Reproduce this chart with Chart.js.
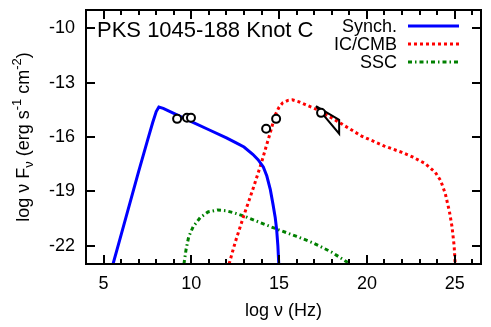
<!DOCTYPE html>
<html>
<head>
<meta charset="utf-8">
<script src="https://cdn.jsdelivr.net/npm/chart.js@4"></script>
<style>
  html, body { margin: 0; padding: 0; background: #fff; }
  canvas { display: block; }
</style>
</head>
<body>
<canvas id="sed" width="491" height="327"></canvas>
<script>
// --- axis ticks ---
const xTicks = [5, 10, 15, 20, 25];
const yTicks = [-10, -13, -16, -19, -22];

// --- Synchrotron model (log nu, log nuFnu) ---
const synchX = [5.54, 6.0, 6.5, 7.0, 7.5, 7.8, 8.0, 8.15, 8.4, 9.0, 10.0, 11.0, 12.0, 12.5, 13.0, 13.5, 13.8, 14.1, 14.3, 14.5, 14.65, 14.78, 14.86, 14.93, 14.98];
const synchY = [-23.0, -21.4, -19.65, -17.9, -16.2, -15.2, -14.6, -14.35, -14.42, -14.7, -15.15, -15.6, -16.05, -16.3, -16.55, -16.95, -17.25, -17.65, -18.15, -18.9, -19.7, -20.45, -21.1, -22.0, -23.0];

// --- IC/CMB model ---
const icX = [12.15, 12.5, 13.0, 13.5, 14.0, 14.3, 14.5, 14.77, 15.0, 15.2, 15.5, 15.75, 16.1, 16.5, 17.2, 18.0, 18.6, 19.7, 21.0, 22.0, 22.6, 23.3, 23.9, 24.2, 24.46, 24.7, 24.85, 24.97, 25.03];
const icY = [-23.0, -21.8, -20.3, -18.9, -17.4, -16.4, -15.75, -14.8, -14.35, -14.12, -13.98, -13.95, -14.05, -14.22, -14.5, -14.95, -15.3, -15.95, -16.5, -16.85, -17.1, -17.45, -17.95, -18.4, -19.1, -20.1, -20.95, -22.0, -23.0];

// --- SSC model ---
const sscX = [9.58, 9.7, 9.85, 10.1, 10.5, 10.95, 11.5, 12.0, 12.4, 13.06, 14.0, 14.94, 16.0, 16.9, 18.0, 19.04];
const sscY = [-23.0, -22.2, -21.5, -20.95, -20.45, -20.13, -20.02, -20.07, -20.17, -20.38, -20.75, -21.1, -21.48, -21.82, -22.35, -23.0];

// --- observed fluxes ---
const obsX = [9.19, 9.75, 9.98, 14.26, 14.83, 17.39];
const obsY = [-15.0, -14.94, -14.94, -15.55, -15.0, -14.67];

// --- X-ray spectrum (bow tie) ---
const xrayX = [17.1, 18.42, 18.42, 17.1];
const xrayY = [-14.3, -15.05, -15.82, -14.3];

const FONT = "'Liberation Sans', Arial, Helvetica, sans-serif";
Chart.defaults.font.family = FONT;
Chart.defaults.color = '#000';

const pts = (xs, ys) => xs.map((x, i) => ({ x: x, y: ys[i] }));

// box around the plot with gnuplot-style inward ticks
const framePlugin = {
    id: 'frame',
    afterDatasetsDraw(chart) {
        const { ctx, chartArea: a, scales: { x, y } } = chart;
        ctx.save();
        ctx.strokeStyle = '#000';
        ctx.lineWidth = 2;
        ctx.beginPath();
        for (let v = Math.ceil(x.min); v <= Math.floor(x.max); v++) {
            const px = Math.round(x.getPixelForValue(v));
            const len = xTicks.includes(v) ? 9 : 5;
            ctx.moveTo(px, a.bottom); ctx.lineTo(px, a.bottom - len);
            ctx.moveTo(px, a.top); ctx.lineTo(px, a.top + len);
        }
        yTicks.forEach(v => {
            const py = Math.round(y.getPixelForValue(v));
            ctx.moveTo(a.left, py); ctx.lineTo(a.left + 9, py);
            ctx.moveTo(a.right, py); ctx.lineTo(a.right - 9, py);
        });
        ctx.stroke();
        ctx.strokeRect(a.left, a.top, a.right - a.left, a.bottom - a.top);
        ctx.restore();
    }
};

// title, y axis label with sub/superscripts, legend
const textPlugin = {
    id: 'texts',
    afterDraw(chart) {
        const { ctx, chartArea: a } = chart;
        ctx.save();
        ctx.fillStyle = '#000';

        // title inside plot
        ctx.font = `22px ${FONT}`;
        ctx.textAlign = 'left';
        ctx.textBaseline = 'alphabetic';
        ctx.fillText('PKS 1045-188 Knot C', 97, 37);

        // y axis label
        const parts = [
            { t: 'log \u03bd F', s: 18, dy: 0 },
            { t: '\u03bd', s: 13, dy: 4 },
            { t: ' (erg s', s: 18, dy: 0 },
            { t: '-1', s: 13, dy: -8 },
            { t: ' cm', s: 18, dy: 0 },
            { t: '-2', s: 13, dy: -8 },
            { t: ')', s: 18, dy: 0 }
        ];
        let total = 0;
        parts.forEach(p => { ctx.font = `${p.s}px ${FONT}`; p.w = ctx.measureText(p.t).width; total += p.w; });
        ctx.translate(29, (a.top + a.bottom) / 2);
        ctx.rotate(-Math.PI / 2);
        let cx = -total / 2;
        parts.forEach(p => {
            ctx.font = `${p.s}px ${FONT}`;
            ctx.fillText(p.t, cx, p.dy);
            cx += p.w;
        });
        ctx.setTransform(1, 0, 0, 1, 0, 0);

        // legend: text right aligned, sample line on the right
        ctx.font = `18px ${FONT}`;
        ctx.textAlign = 'right';
        ctx.textBaseline = 'middle';
        const rows = chart.data.datasets.filter(d => d.inLegend);
        rows.forEach((d, i) => {
            const yy = 26 + i * 18;
            ctx.fillStyle = '#000';
            ctx.fillText(d.label, 397, yy + 1);
            ctx.strokeStyle = d.borderColor;
            ctx.lineWidth = d.borderWidth;
            ctx.setLineDash(d.borderDash || []);
            ctx.beginPath();
            ctx.moveTo(408, yy);
            ctx.lineTo(459, yy);
            ctx.stroke();
        });
        ctx.restore();
    }
};

new Chart(document.getElementById('sed'), {
    type: 'scatter',
    data: {
        datasets: [
            { label: 'obs', data: pts(obsX, obsY), order: 0, showLine: false,
              pointRadius: 4, pointBorderWidth: 2, borderColor: '#000', backgroundColor: '#fff' },
            { label: 'xray', data: pts(xrayX, xrayY), order: 1, showLine: true, pointRadius: 0,
              borderColor: '#000', borderWidth: 2, tension: 0 },
            { label: 'Synch.', inLegend: true, data: pts(synchX, synchY), order: 2, showLine: true,
              pointRadius: 0, borderColor: '#0000ff', borderWidth: 3, tension: 0 },
            { label: 'IC/CMB', inLegend: true, data: pts(icX, icY), order: 3, showLine: true,
              pointRadius: 0, borderColor: '#ff0000', borderWidth: 3, borderDash: [3, 3], tension: 0 },
            { label: 'SSC', inLegend: true, data: pts(sscX, sscY), order: 4, showLine: true,
              pointRadius: 0, borderColor: '#008000', borderWidth: 3, borderDash: [4, 3, 1.5, 3], tension: 0 }
        ]
    },
    options: {
        responsive: false,
        animation: false,
        devicePixelRatio: 1,
        layout: { padding: { left: 0, top: 10, right: 10, bottom: 0 } },
        plugins: { legend: { display: false }, tooltip: { enabled: false } },
        scales: {
            x: {
                type: 'linear', min: 4, max: 26.5,
                afterBuildTicks: s => { s.ticks = xTicks.map(v => ({ value: v })); },
                afterFit: s => { s.height = 63; s.paddingLeft = 0; s.paddingRight = 0; },
                grid: { display: false, drawTicks: false },
                border: { display: false },
                ticks: { color: '#000', font: { size: 18 }, padding: 9, maxRotation: 0, autoSkip: false },
                title: { display: true, text: 'log \u03bd (Hz)', color: '#000', font: { size: 18 }, padding: { top: 0, bottom: 5 } }
            },
            y: {
                type: 'linear', min: -23, max: -9,
                afterBuildTicks: s => { s.ticks = yTicks.map(v => ({ value: v })); },
                afterFit: s => { s.width = 86; s.paddingTop = 0; s.paddingBottom = 0; },
                grid: { display: false, drawTicks: false },
                border: { display: false },
                ticks: { color: '#000', font: { size: 18 }, padding: 11 }
            }
        }
    },
    plugins: [framePlugin, textPlugin]
});
</script>
</body>
</html>
